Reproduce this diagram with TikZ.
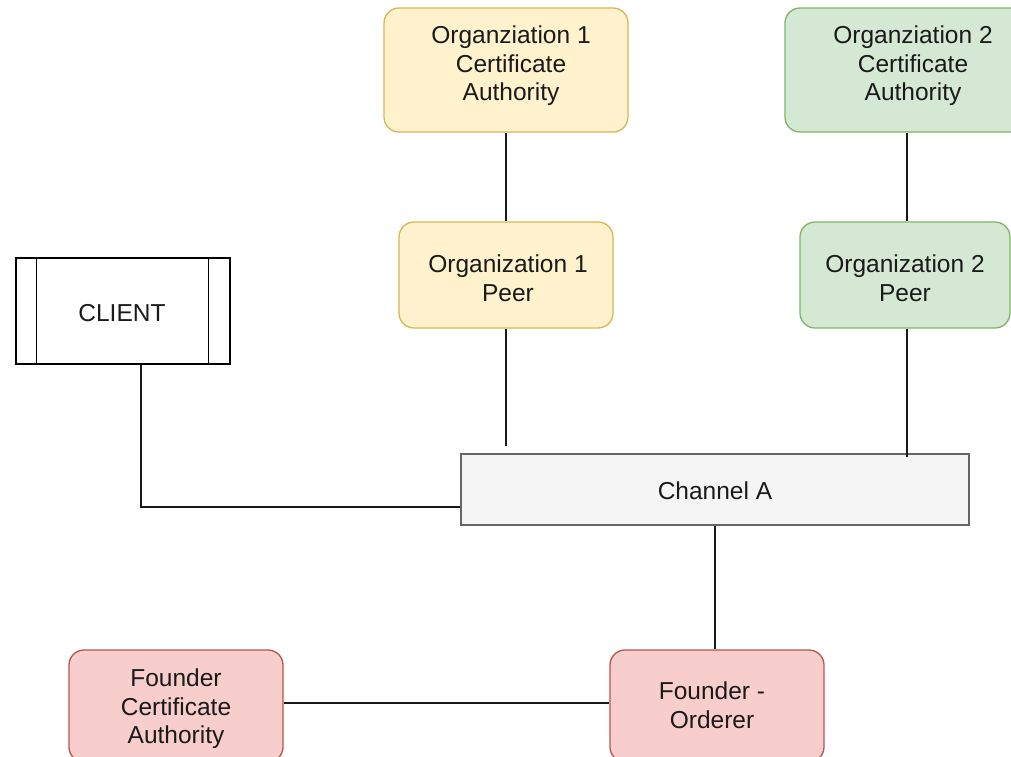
\documentclass[tikz,border=0pt]{standalone}
\usepackage{fontspec}
\setmainfont{Liberation Sans}
\usetikzlibrary{calc}
\definecolor{yfill}{HTML}{FFF2CC}\definecolor{ydraw}{HTML}{D6B656}
\definecolor{gfill}{HTML}{D5E8D4}\definecolor{gdraw}{HTML}{82B366}
\definecolor{rfill}{HTML}{F8CECC}\definecolor{rdraw}{HTML}{B85450}
\definecolor{cfill}{HTML}{F5F5F5}\definecolor{cdraw}{HTML}{666666}
\definecolor{txt}{HTML}{1A1A1A}
\tikzset{
  box/.style={rectangle, rounded corners=15pt, line width=1.3pt, inner sep=0pt,
    align=center, text=txt, font=\fontsize{24.5}{28.5}\selectfont},
  lbl/.style={align=center, text=txt, inner sep=0pt, font=\fontsize{24.5}{28.5}\selectfont},
  ybox/.style={box, fill=yfill, draw=ydraw},
  gbox/.style={box, fill=gfill, draw=gdraw},
  rbox/.style={box, fill=rfill, draw=rdraw},
  chanbox/.style={box, rounded corners=0pt, fill=cfill, draw=cdraw},
  clientbox/.style={box, rounded corners=0pt, fill=white, draw=black},
  link/.style={line width=1.4pt, draw=black!90}
}
\begin{document}
\begin{tikzpicture}[x=1pt,y=-1pt]
\useasboundingbox (0,0) rectangle (1011,756);
\clip (0,0) rectangle (1011,756);
% boxes
\node[ybox, minimum width=244pt, minimum height=124pt] (o1ca) at (506,70) {};
\node[lbl] (o1catxt) at (511,66) {Organziation 1\\Certificate\\Authority};
\node[gbox, minimum width=256pt, minimum height=124pt] (o2ca) at (913,70) {};
\node[lbl] (o2catxt) at (913,66) {Organziation 2\\Certificate\\Authority};
\node[ybox, minimum width=214pt, minimum height=106pt] (o1peer) at (506,275) {};
\node[lbl] (o1peertxt) at (508,278) {Organization 1\\Peer};
\node[gbox, minimum width=210pt, minimum height=106pt] (o2peer) at (905,275) {};
\node[lbl] (o2peertxt) at (905,278) {Organization 2\\Peer};
\node[clientbox, minimum width=214pt, minimum height=106pt] (client) at (123,311) {};
\node[lbl] (clienttxt) at (122,313) {CLIENT};
\draw[line width=1.3pt] ($(client.north west)+(21,0)$) -- ($(client.south west)+(21,0)$);
\draw[line width=1.3pt] ($(client.north east)+(-22,0)$) -- ($(client.south east)+(-22,0)$);
\node[chanbox, minimum width=508pt, minimum height=71pt] (chan) at (715,489.5) {};
\node[lbl] (chantxt) at (715,491) {Channel A};
\node[rbox, minimum width=214pt, minimum height=112pt] (fca) at (176,706) {};
\node[lbl] (fcatxt) at (176,709) {Founder\\Certificate\\Authority};
\node[rbox, minimum width=214pt, minimum height=112pt] (ord) at (717,706) {};
\node[lbl] (ordtxt) at (712,705) {Founder -\\Orderer};
% connectors
\coordinate (o1end) at (506,446);
\coordinate (o2end) at (907,457);
\coordinate (clbend) at (141,507);
\draw[link] (o1ca.south) -- (o1peer.north);
\draw[link] (o1peer.south) -- (o1end);
\draw[link] (o2ca.south -| o2end) -- (o2peer.north -| o2end);
\draw[link] (o2peer.south -| o2end) -- (o2end);
\draw[link] (client.south -| clbend) -- (clbend) -- (clbend -| chan.west);
\draw[link] (chan.south) -- (ord.north -| chan.south);
\draw[link] (fca.east |- 0,703) -- (ord.west |- 0,703);
\end{tikzpicture}
\end{document}
